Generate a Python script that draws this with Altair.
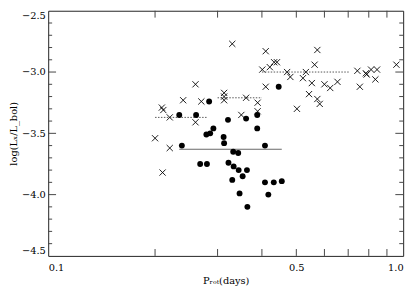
import altair as alt
import pandas as pd

# X-ray detections (crosses)
cross_p = [0.330, 0.260, 0.240, 0.270, 0.209, 0.211, 0.220, 0.260, 0.313, 0.313,
           0.313, 0.361, 0.350, 0.200, 0.220, 0.210, 0.410, 0.573, 0.421, 0.433,
           0.441, 0.401, 0.471, 0.481, 0.532, 0.522, 0.563, 0.553, 0.600, 0.623,
           0.653, 0.543, 0.573, 0.582, 0.502, 0.410, 0.389, 0.389, 0.743, 0.785,
           0.789, 0.812, 0.844, 0.835, 0.755, 0.957]
cross_l = [-2.77, -3.10, -3.23, -3.24, -3.29, -3.31, -3.37, -3.41, -3.17, -3.20,
           -3.23, -3.21, -3.35, -3.54, -3.62, -3.82, -2.83, -2.82, -2.96, -2.92,
           -2.92, -2.98, -3.00, -3.04, -3.00, -3.05, -2.94, -3.09, -3.10, -3.13,
           -3.08, -3.18, -3.22, -3.26, -3.30, -3.12, -3.25, -3.32, -2.99, -3.01,
           -3.02, -2.98, -2.98, -3.06, -3.12, -2.94]

# filled circles
circle_p = [0.284, 0.234, 0.261, 0.321, 0.361, 0.292, 0.279, 0.286, 0.312, 0.313,
            0.238, 0.332, 0.343, 0.268, 0.280, 0.322, 0.333, 0.344, 0.363, 0.353,
            0.330, 0.346, 0.364, 0.408, 0.408, 0.432, 0.455, 0.417, 0.446, 0.388,
            0.388]
circle_l = [-3.24, -3.35, -3.35, -3.39, -3.38, -3.46, -3.51, -3.50, -3.53, -3.58,
            -3.60, -3.65, -3.66, -3.75, -3.75, -3.74, -3.77, -3.80, -3.80, -3.85,
            -3.88, -3.99, -4.10, -3.60, -3.90, -3.90, -3.89, -4.00, -3.12, -3.35,
            -3.46]

# mean levels
solid_start = [0.234]
solid_end = [0.455]
solid_level = [-3.63]
dot_start = [0.200, 0.300, 0.400]
dot_end = [0.280, 0.400, 0.705]
dot_level = [-3.37, -3.21, -3.00]

# axis ticks
y_major = [-4.0, -3.5, -3.0]
y_minor = [-4.4, -4.3, -4.2, -4.1, -3.9, -3.8, -3.7, -3.6, -3.4, -3.3, -3.2,
           -3.1, -2.9, -2.8, -2.7, -2.6]
x_ticks = [0.2, 0.3, 0.4, 0.5, 0.6, 0.7, 0.8, 0.9]
y_labels = [-4.5, -4.0, -3.5, -3.0, -2.5]
x_labels = [0.1, 0.5, 1.0]

W, H = 362, 250
FONT = "DejaVu Serif"

xs = alt.Scale(type="log", domain=[0.1, 1.0], nice=False)
ys = alt.Scale(domain=[-4.5, -2.5], nice=False, zero=False)

X_AXIS = alt.Axis(values=x_labels, format=".1f", ticks=False, domain=False, grid=False,
                  labelPadding=7, title="Pᵣₒₜ(days)", titlePadding=3)
Y_AXIS = alt.Axis(values=y_labels, format=".1f", ticks=False, domain=False, grid=False,
                  labelFlush=True, labelPadding=3, title="log(Lₓ/L_bol)",
                  titleX=-30, titleY=H / 2)


def X(field):
    return alt.X(field, scale=xs, axis=X_AXIS)


def Y(field):
    return alt.Y(field, scale=ys, axis=Y_AXIS)


X_PATH = "M-1,-1L1,1M-1,1L1,-1"

cross_df = pd.DataFrame({"p": cross_p, "l": cross_l})
circle_df = pd.DataFrame({"p": circle_p, "l": circle_l})
solid_df = pd.DataFrame({"p": solid_start, "e": solid_end, "l": solid_level})
dot_df = pd.DataFrame({"p": dot_start, "e": dot_end, "l": dot_level})
ymaj_df = pd.DataFrame({"l": y_major})
ymin_df = pd.DataFrame({"l": y_minor})
xt_df = pd.DataFrame({"p": x_ticks})

crosses = alt.Chart(cross_df).mark_point(
    shape=X_PATH, size=40, filled=False, stroke="black", strokeWidth=0.9, opacity=1
).encode(x=X("p:Q"), y=Y("l:Q"))

circles = alt.Chart(circle_df).mark_circle(size=36, color="black", opacity=1).encode(
    x=X("p:Q"), y=Y("l:Q"))

solid = alt.Chart(solid_df).mark_rule(color="#666", strokeWidth=1).encode(
    x=X("p:Q"), x2="e:Q", y=Y("l:Q"))

dotted = alt.Chart(dot_df).mark_rule(color="#555", strokeWidth=1, strokeDash=[1.5, 1.5]).encode(
    x=X("p:Q"), x2="e:Q", y=Y("l:Q"))

tick_color = "#444"
yl_maj = alt.Chart(ymaj_df).mark_rule(color=tick_color).encode(
    y=Y("l:Q"), x=alt.value(0), x2=alt.value(8))
yr_maj = alt.Chart(ymaj_df).mark_rule(color=tick_color).encode(
    y=Y("l:Q"), x=alt.value(W), x2=alt.value(W - 8))
yl_min = alt.Chart(ymin_df).mark_rule(color=tick_color).encode(
    y=Y("l:Q"), x=alt.value(0), x2=alt.value(4))
yr_min = alt.Chart(ymin_df).mark_rule(color=tick_color).encode(
    y=Y("l:Q"), x=alt.value(W), x2=alt.value(W - 4))
xb = alt.Chart(xt_df).mark_rule(color=tick_color).encode(
    x=X("p:Q"), y=alt.value(H), y2=alt.value(H - 7))
xt = alt.Chart(xt_df).mark_rule(color=tick_color).encode(
    x=X("p:Q"), y=alt.value(0), y2=alt.value(7))

chart = alt.layer(
    crosses, yl_maj, yr_maj, yl_min, yr_min, xb, xt, solid, dotted, circles
).properties(
    width=W, height=H,
    autosize=alt.AutoSizeParams(type="none"),
    padding={"left": 41, "top": 0, "right": 9, "bottom": 34},
).configure_view(
    stroke="#222", strokeWidth=1
).configure_axis(
    labelFont=FONT, labelFontSize=10, labelColor="black",
    titleFont=FONT, titleFontSize=10, titleFontWeight="normal", titleColor="black",
)

chart.save("out.html", embed_options={"renderer": "svg", "actions": False})
